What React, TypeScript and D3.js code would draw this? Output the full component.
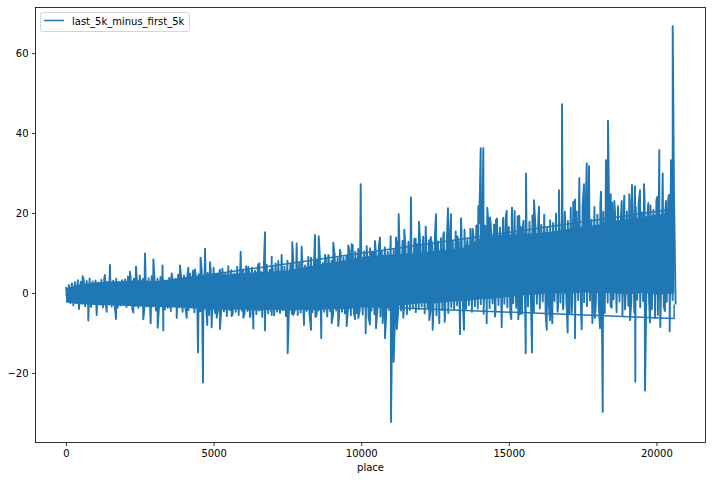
import React, { useEffect, useRef } from 'react';
import * as d3 from 'd3';

const width = 712;
const height = 480;
const seriesName = 'last_5k_minus_first_5k';
const xLabel = 'place';
const xTicks = [0, 5000, 10000, 15000, 20000];
const yTicks = [-20, 0, 20, 40, 60];

// band, one value per 100 places
const samplePlaces = d3.range(0, 20700, 100);
const bandHighs = [
  1.5, 2.0, 2.4, 2.7, 3.2, 2.8, 3.4, 3.0, 3.6, 2.9,
  3.1, 2.6, 3.3, 3.9, 2.8, 3.5, 3.1, 3.6, 2.7, 3.2,
  3.4, 4.1, 3.0, 3.6, 3.2, 4.4, 3.5, 2.9, 3.7, 4.2,
  3.1, 3.6, 4.0, 3.3, 2.9, 3.8, 4.2, 3.5, 4.6, 3.9,
  4.4, 3.6, 4.9, 5.6, 4.1, 4.7, 5.4, 6.2, 5.0, 5.8,
  6.3, 4.8, 5.5, 6.1, 5.0, 6.4, 5.7, 4.9, 6.6, 5.4,
  5.9, 6.7, 5.2, 6.3, 5.6, 6.9, 5.3, 6.2, 7.1, 5.8,
  6.5, 7.4, 6.0, 7.8, 6.6, 8.1, 7.0, 7.7, 6.3, 7.5,
  8.2, 6.9, 7.6, 8.8, 7.2, 8.4, 9.1, 7.5, 8.6, 9.3,
  8.1, 9.6, 8.7, 10.1, 8.9, 9.4, 10.6, 9.2, 10.3, 11,
  9.3, 10.4, 9.5, 11.2, 10.1, 9.7, 11.8, 10.4, 11.4, 10.3,
  12.2, 10.8, 12.6, 11.4, 13.1, 11.6, 12.8, 11.3, 13.6, 12.2,
  11.9, 14.1, 12.7, 13.2, 12.1, 14.8, 12.9, 13.7, 15.2, 12.6,
  14.3, 13.1, 15.4, 12.8, 14.1, 15.8, 13.3, 16.1, 14.4, 16.9,
  17.5, 15.6, 16.8, 18.2, 15.9, 17.1, 18.6, 16.4, 17.9, 19,
  16.5, 18.7, 17.3, 19.2, 16.6, 18.1, 15.9, 17.8, 19.4, 16.8,
  18.5, 17, 19.6, 16.4, 18.2, 17.5, 19.9, 16.9, 18.4, 20.3,
  18, 21.3, 19.1, 20.4, 18.6, 21.8, 19.4, 20.9, 18.3, 21.5,
  19.6, 22, 20.3, 21.4, 19.2, 22.6, 20.1, 21.7, 19.5, 22.1,
  20.4, 23, 19.8, 21.6, 22.5, 20.2, 23.4, 19.7, 21.9, 20.8,
  23.2, 21.1, 22.8, 20.4, 23.5, 21.3, 22.6,
];
const bandLows = [
  -2.2, -2.6, -3.1, -2.5, -3.0, -2.6, -3.3, -2.8, -3.5, -2.7,
  -3.2, -2.9, -3.6, -3.0, -2.8, -3.4, -3.0, -3.7, -3.1, -2.9,
  -3.5, -3.1, -4.0, -3.2, -3.7, -3.0, -4.2, -3.4, -3.9, -3.3,
  -4.4, -3.6, -3.2, -4.1, -3.7, -4.5, -3.4, -4.0, -3.6, -4.7,
  -3.9, -4.3, -3.5, -4.8, -3.7, -4.6, -5.2, -4.0, -5.5, -4.4,
  -5.0, -4.2, -5.4, -4.6, -5.8, -4.3, -5.1, -4.7, -5.5, -4.4,
  -5.2, -4.5, -5.7, -4.8, -5.3, -4.4, -6.0, -4.9, -5.1, -4.6,
  -5.6, -4.7, -5.0, -4.3, -5.8, -4.6, -5.2, -4.4, -5.5, -4.9,
  -5.7, -4.5, -5.3, -4.8, -6.0, -4.4, -5.4, -4.7, -5.9, -4.6,
  -5.2, -4.4, -5.8, -4.7, -5.1, -4.2, -5.6, -4.8, -5.0, -4.3,
  -5.4, -4.6, -6.2, -4.4, -5.3, -4.1, -5.9, -4.7, -5.2, -4.3,
  -5.8, -3.9, -5.0, -4.4, -3.7, -5.3, -4.2, -3.6, -4.8, -4.0,
  -3.4, -5.1, -3.8, -4.4, -3.2, -5.6, -3.7, -4.3, -3.3, -5.0,
  -3.6, -4.2, -3.1, -5.4, -3.5, -4.0, -3.0, -4.7, -3.3, -3.9,
  -2.8, -5.2, -3.1, -3.8, -2.6, -4.6, -3.0, -4.1, -2.7, -3.6,
  -5.0, -2.6, -3.7, -2.3, -5.2, -2.8, -3.4, -2.2, -4.8, -2.7,
  -3.9, -2.1, -5.4, -2.6, -3.5, -2.0, -4.7, -2.4, -3.2, -1.9,
  -5.1, -2.5, -3.8, -1.8, -5.6, -2.3, -3.3, -1.9, -4.6, -2.2,
  -3.6, -1.7, -5.0, -2.4, -3.4, -1.6, -4.8, -2.1, -5.7, -1.8,
  -3.2, -2.3, -4.9, -1.7, -3.6, -2.0, -5.3, -1.6, -4.1, -2.4,
  -5.5, -1.9, -3.4, -2.2, -5.0, -1.8, -2.9,
];

// the part of the band where the line is so dense that it reads as solid
const corePlaces = [
  0, 500, 1000, 1500, 2000, 2500, 3000, 3500, 4000, 4500, 5000, 5500, 6000, 6500, 7000, 7500, 8000, 8500, 9000, 9500,
  10000, 10500, 11000, 11500, 12000, 12500, 13000, 13500, 14000, 14500, 15000, 15500, 16000, 16500, 17000, 17500,
  18000, 18500, 19000, 19500, 20000, 20600,
];
const coreHighs = [
  1.2, 2.2, 2.6, 2.8, 3.0, 3.2, 2.9, 3.4, 3.8, 4.2, 4.8, 4.6, 5.0, 5.2, 5.4, 5.6, 6.4, 7.0, 7.6, 8.2,
  9.0, 9.4, 9.6, 9.8, 10, 10.6, 10.8, 11.4, 13.6, 14.4, 14.6, 14.8, 15, 15.4, 16, 16.6,
  17, 18, 18.4, 19, 19.6, 20,
];
const coreLows = [
  -2.3, -2.8, -3, -3.1, -3.2, -3.4, -3.5, -3.6, -3.7, -4, -4.2, -4.2, -4.1, -4.4, -4.2, -4.4, -4.2, -4.3, -4, -4.1,
  -3.6, -3.4, -3.6, -3, -2.6, -2.6, -2.2, -2, -1.6, -1.4, -1, -0.6, -0.4, 0, -0.2, 0.2,
  0, 0, -0.4, 0, -0.4, -0.2,
];

// single tall excursions
const upSpikePlaces = [
  565, 1321, 1490, 2168, 2371, 2676, 2960, 3270, 3580, 3860, 4144, 4370, 4560, 4710, 4878, 5217, 5499, 5918, 6176,
  6549, 6741, 6968, 7192, 7305, 7666, 7814, 7983, 8209, 8435, 8560, 8774, 8886, 9055, 9282, 9563,
  9677, 9712, 9983, 10186, 10355, 10467, 10637, 10806, 10999, 11179, 11270, 11460, 11687, 11847, 11958, 12084,
  12185, 12355, 12534, 12780, 12940, 13042, 13255, 13381, 13573,
  13777, 13967, 14048, 14137, 14272, 14363, 14566, 14813, 14928, 15108, 15198, 15356, 15470, 15583, 15854, 16023,
  16700, 16802, 17185, 17243, 17388, 17547, 17639, 17717, 18123, 18293, 18360, 18452, 18574, 18825, 18913, 19082,
  19173, 19275, 19444, 19580, 19725, 20030, 20098, 20213, 20325, 20427, 20495, 20552, 20596,
];
const upSpikeValues = [
  4.2, 4.5, 7, 5.3, 6.6, 9.9, 8.4, 6.9, 4.9, 6.9, 6.3, 5.9, 8.8, 11.1, 7.7, 5.8, 6.7, 10.3, 6.6,
  7.4, 15.2, 9.1, 8, 9.5, 12.7, 12.4, 11.6, 9.1, 14.5, 14.2, 9.5, 9.5, 12.6, 10.8, 11.9,
  12.2, 12, 27.2, 11.7, 10.3, 13, 13.9, 11.1, 14.2, 13.9, 19.7, 15.8, 23.9, 13.6, 17.8, 12,
  16.6, 14, 19.7, 14.5, 21.2, 19.7, 14.2, 18.7, 11.8,
  16, 21.7, 36.2, 36.2, 21.3, 18.9, 18.2, 18.8, 20.5, 21.4, 20.5, 19.3, 16.3, 29.9, 23.2, 21.6,
  25.7, 47.2, 22.8, 23.4, 28.7, 27.2, 32.4, 31.7, 25.3, 33.2, 43.1, 24.7, 23, 23, 24.3, 24.7,
  27, 26.7, 25.7, 27.2, 22.5, 24, 35.7, 29.9, 23, 24.5, 33.2, 66.7, 24,
];
const downSpikePlaces = [
  440, 756, 1040, 1378, 1694, 2280, 2619, 2868, 3105, 3297, 3750, 4089, 4472, 4641, 4787, 4935, 5105, 5217, 5613,
  6007, 6233, 6345, 6741, 6968, 7249, 7510, 7700, 8062, 8299, 8492, 8648, 9000, 9224, 9508, 9790, 9902,
  10152, 10298, 10501, 10728, 10806, 11010, 11101, 11203, 11426, 12307, 12422, 12646, 12829, 13347, 13482, 14251,
  14532, 14759, 15084, 15322, 15379, 15573, 15786, 16284, 16396, 16474, 16667, 16836, 16995, 17130, 17243, 17470,
  17830, 17920, 18090, 18181, 18486, 18936, 19106, 19285, 19614, 19783, 19953, 20132, 20291, 20450,
];
const downSpikeValues = [
  -4, -6.9, -5.5, -4.7, -6.5, -4.9, -6.6, -7.6, -8.7, -9.4, -6.2, -6.2, -14.9, -22.4, -8, -8.6, -6.2, -9, -5.8,
  -6.2, -6, -8.9, -9.4, -5.5, -4.9, -15.1, -5.5, -8, -9.2, -5.5, -11.3, -7.6, -8.3, -8.3, -6.5, -6.3,
  -10.1, -7.9, -8.8, -7.5, -11.3, -32.3, -17.2, -9, -6.2, -6.8, -9.2, -7.6, -7.2, -10.3, -9.2, -7.6,
  -5.9, -8.6, -6.6, -6.6, -5.3, -15.1, -14.9, -9.2, -6.8, -7.6, -3.7, -4.1, -9.9, -5, -11.3, -9.1,
  -7.5, -6.2, -8.8, -29.8, -3.7, -4.1, -6.8, -22.2, -24.4, -7.4, -6.3, -8.5, -4.5, -9.6,
];

// the long wrap-around strokes at the end of the series
const wrapPlaces = [20600, 20600, 0, 20600];
const wrapValues = [-2.9, -6.4, -0.5, 21];

const App: React.FC = () => {
  const svgRef = useRef<SVGSVGElement>(null);

  useEffect(() => {
    if (!svgRef.current) return;
    const svg = d3.select(svgRef.current);
    svg.selectAll('*').remove();
    svg.style('font-family', '"DejaVu Sans"').style('font-size', '10px');

    const left = 35.5;
    const right = 705.5;
    const top = 7.5;
    const bottom = 442.5;

    const x = d3.scaleLinear().domain([-1033, 21663]).range([left, right]);
    const y = d3.scaleLinear().domain([-37.4, 71.4]).range([bottom, top]);

    const points: [number, number][] = [];
    samplePlaces.forEach((p, i) => {
      points.push([p, bandHighs[i]]);
      points.push([p + 50, bandLows[i]]);
    });
    upSpikePlaces.forEach((p, i) => points.push([p, upSpikeValues[i]]));
    downSpikePlaces.forEach((p, i) => points.push([p, downSpikeValues[i]]));
    points.sort((a, b) => a[0] - b[0]);

    const line = d3.line<[number, number]>()
      .x((d) => x(d[0]))
      .y((d) => y(d[1]));

    const core = d3.area<number>()
      .x((d) => x(d))
      .y0((_, i) => y(coreLows[i]))
      .y1((_, i) => y(coreHighs[i]));

    svg.append('path')
      .attr('d', core(corePlaces))
      .attr('fill', '#1f77b4');

    svg.append('path')
      .attr('d', line(points))
      .attr('fill', 'none')
      .attr('stroke', '#1f77b4')
      .attr('stroke-width', 1.9)
      .attr('stroke-linejoin', 'round');

    svg.append('path')
      .attr('d', line(wrapPlaces.map((p, i) => [p, wrapValues[i]] as [number, number])))
      .attr('fill', 'none')
      .attr('stroke', '#1f77b4')
      .attr('stroke-width', 1.5)
      .attr('stroke-linejoin', 'round');

    // axes
    const xAxis = svg.append('g')
      .attr('transform', `translate(0,${bottom})`)
      .call(d3.axisBottom(x).tickValues(xTicks).tickFormat(d3.format('d')).tickSize(3.5).tickPadding(3.5));
    const yAxis = svg.append('g')
      .attr('transform', `translate(${left},0)`)
      .call(d3.axisLeft(y).tickValues(yTicks).tickFormat((d) => String(d).replace('-', '\u2212')).tickSize(3.5).tickPadding(3.5));
    [xAxis, yAxis].forEach((a) => {
      a.attr('font-family', '"DejaVu Sans"').attr('font-size', 10);
      a.select('.domain').remove();
      a.selectAll('line').attr('stroke', '#000').attr('stroke-width', 0.8);
      a.selectAll('text').attr('fill', '#000');
    });

    svg.append('rect')
      .attr('x', left)
      .attr('y', top)
      .attr('width', right - left)
      .attr('height', bottom - top)
      .attr('fill', 'none')
      .attr('stroke', '#000')
      .attr('stroke-width', 0.8);

    svg.append('text')
      .attr('x', (left + right) / 2)
      .attr('y', 471)
      .attr('text-anchor', 'middle')
      .attr('fill', '#000')
      .text(xLabel);

    // legend
    svg.append('rect')
      .attr('x', 40.5)
      .attr('y', 12.5)
      .attr('width', 149)
      .attr('height', 19)
      .attr('rx', 2)
      .attr('fill', '#fff')
      .attr('fill-opacity', 0.8)
      .attr('stroke', '#ccc')
      .attr('stroke-width', 0.8);
    svg.append('line')
      .attr('x1', 44)
      .attr('x2', 64)
      .attr('y1', 20.5)
      .attr('y2', 20.5)
      .attr('stroke', '#1f77b4')
      .attr('stroke-width', 1.5);
    svg.append('text')
      .attr('x', 72)
      .attr('y', 25)
      .attr('fill', '#000')
      .text(seriesName);
  }, []);

  return (
    <svg
      ref={svgRef}
      width={width}
      height={height}
      style={{ position: 'absolute', left: 0, top: 0, background: '#fff' }}
    />
  );
};

export default App;
